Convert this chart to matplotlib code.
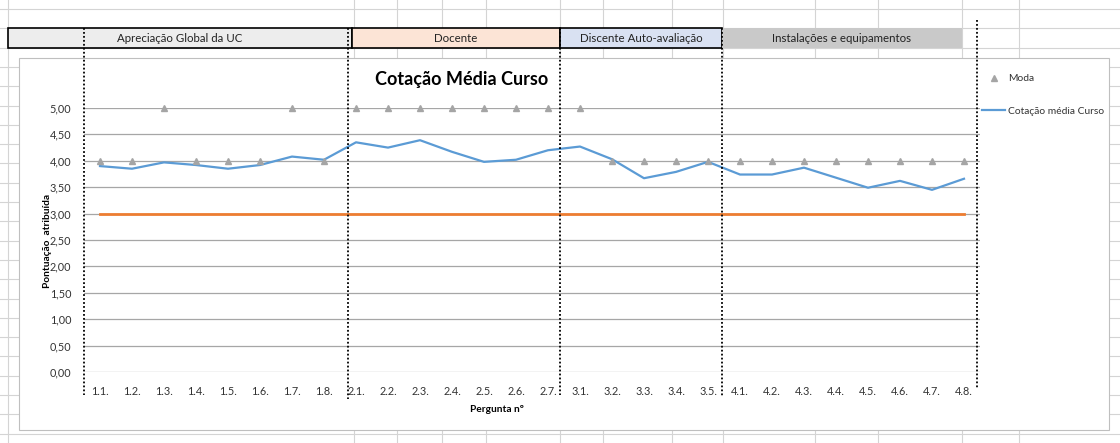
import matplotlib
matplotlib.use("Agg")
import matplotlib.pyplot as plt
from matplotlib.patches import Rectangle

plt.rcParams["font.family"] = ["Lato", "DejaVu Sans"]

# data
perguntas = ["1.1.", "1.2.", "1.3.", "1.4.", "1.5.", "1.6.", "1.7.", "1.8.",
             "2.1.", "2.2.", "2.3.", "2.4.", "2.5.", "2.6.", "2.7.",
             "3.1.", "3.2.", "3.3.", "3.4.", "3.5.",
             "4.1.", "4.2.", "4.3.", "4.4.", "4.5.", "4.6.", "4.7.", "4.8."]
media_curso = [3.90, 3.85, 3.97, 3.92, 3.85, 3.92, 4.08, 4.02,
               4.35, 4.25, 4.39, 4.17, 3.98, 4.02, 4.20,
               4.27, 4.03, 3.67, 3.79, 3.98,
               3.74, 3.74, 3.87, 3.68, 3.49, 3.62, 3.45, 3.66]
moda = [4, 4, 5, 4, 4, 4, 5, 4,
        5, 5, 5, 5, 5, 5, 5,
        5, 4, 4, 4, 4,
        4, 4, 4, 4, 4, 4, 4, 4]
referencia = [3.0] * len(perguntas)
y_ticks = [0.0, 0.5, 1.0, 1.5, 2.0, 2.5, 3.0, 3.5, 4.0, 4.5, 5.0]

grupos = ["Apreciação Global da UC", "Docente", "Discente Auto-avaliação", "Instalações e equipamentos"]

W, H = 1120, 443
fig = plt.figure(figsize=(W / 100, H / 100), dpi=100)

# spreadsheet background
bg = fig.add_axes([0, 0, 1, 1], zorder=0)
bg.set_xlim(0, W)
bg.set_ylim(H, 0)
bg.axis("off")
grid_c = "#d4d4d4"
y = 9.0
while y < H:
    bg.plot([0, W], [y, y], color=grid_c, lw=0.8, zorder=1)
    y += 19.3
for x in [8, 354, 397, 442, 486, 560, 603, 672, 723, 815, 878, 962, 1019]:
    bg.plot([x, x], [0, H], color=grid_c, lw=0.8, zorder=1)

# header boxes
boxes = [(8, 352, "#ededed", True), (352, 560, "#fce4d6", True),
         (560, 722, "#d9e1f2", True), (722, 962, "#c9c9c9", False)]
for (x0, x1, fc, border), name in zip(boxes, grupos):
    bg.add_patch(Rectangle((x0, 28), x1 - x0, 20, facecolor=fc,
                           edgecolor="black" if border else "none", lw=1.2, zorder=5))
    bg.text((x0 + x1) / 2, 38.5, name, ha="center", va="center", fontsize=8.3,
            color="#222222", zorder=6)

# chart area
bg.add_patch(Rectangle((19, 58), 1090, 372, facecolor="white", edgecolor="#bfbfbf",
                       lw=0.8, zorder=5))

# plot area
ax = fig.add_axes([84 / W, (H - 372) / H, (980 - 84) / W, (372 - 108) / H], zorder=1)
ax.patch.set_alpha(0)
xs = list(range(len(perguntas)))
ax.plot(xs, referencia, color="#ed7d31", lw=2, zorder=2)
l_media, = ax.plot(xs, media_curso, color="#5b9bd5", lw=1.6, zorder=3,
                   label="Cotação média Curso")
l_moda, = ax.plot(xs, moda, ls="none", marker="^", ms=4.5, color="#a5a5a5",
                  zorder=4, clip_on=False, label="Moda")
ax.set_xlim(-0.5, len(perguntas) - 0.5)
ax.set_ylim(0, 5)
ax.set_yticks(y_ticks)
ax.set_yticklabels([f"{v:.2f}".replace(".", ",") for v in y_ticks])
ax.set_xticks(xs)
ax.set_xticklabels(perguntas)
ax.tick_params(axis="both", length=0, labelsize=7.8, colors="#333333")
ax.tick_params(axis="y", pad=9)
ax.tick_params(axis="x", pad=10)
ax.grid(axis="y", color="#a6a6a6", lw=0.9)
ax.set_axisbelow(True)
for s in ax.spines.values():
    s.set_visible(False)

fig.legend(handles=[l_moda, l_media], loc="upper left",
           bbox_to_anchor=(973 / W, 1 - 65 / H), frameon=False, fontsize=7.4,
           labelspacing=2.25, handlelength=2.2, handletextpad=0.3,
           labelcolor="#333333")

# overlay: title, axis labels, dotted cell borders
ov = fig.add_axes([0, 0, 1, 1], zorder=3)
ov.set_xlim(0, W)
ov.set_ylim(H, 0)
ov.axis("off")
ov.patch.set_alpha(0)
ov.text(462, 79, "Cotação Média Curso", ha="center", va="center",
        fontsize=13, fontweight="bold", color="black")
ov.text(47, 241, "Pontuação  atribuída", ha="center", va="center", rotation=90,
        fontsize=7.3, fontweight="bold", color="black")
ov.text(497, 409, "Pergunta nº", ha="center", va="center",
        fontsize=7.3, fontweight="bold", color="black")
for x, y0, y1 in [(84, 28, 395), (348, 28, 399), (560, 28, 395), (722, 28, 396), (977, 20, 388)]:
    ov.plot([x, x], [y0, y1], color="black", lw=1.3, ls=(0, (1, 1.2)))

fig.savefig("out.png", dpi=100)
